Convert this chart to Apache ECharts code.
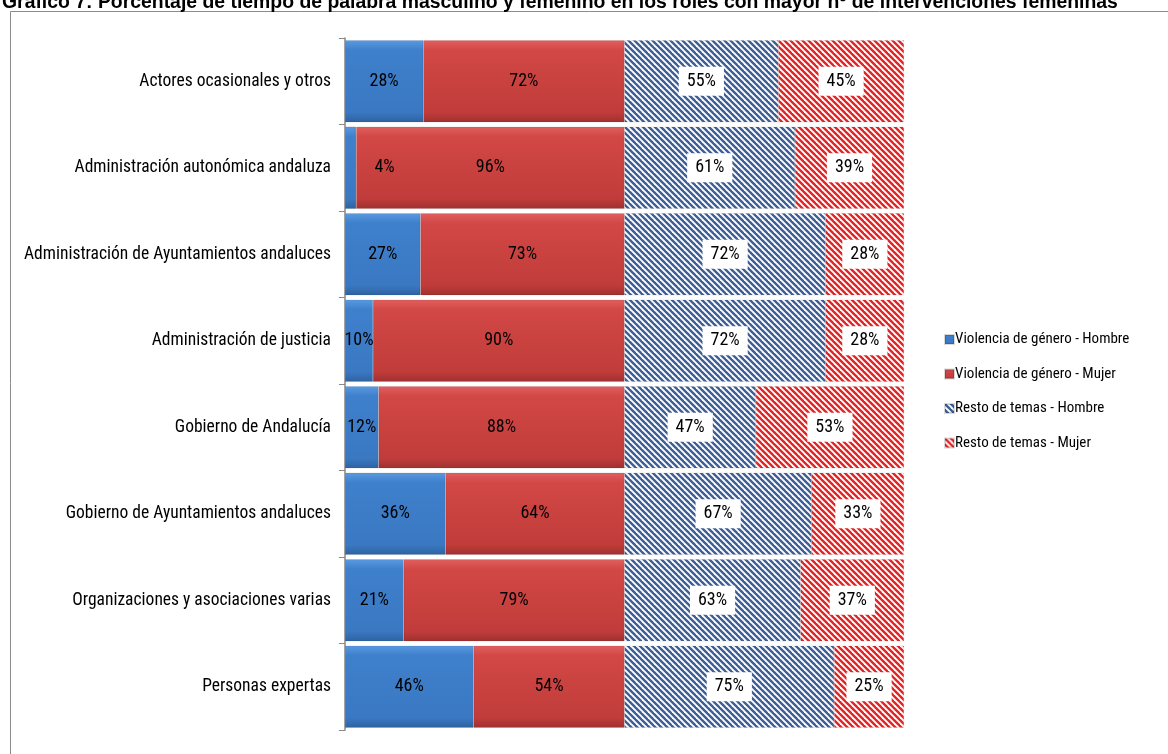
<!DOCTYPE html>
<html><head><meta charset="utf-8">
<script src="https://cdn.jsdelivr.net/npm/echarts@6/dist/echarts.min.js"></script>
<style>html,body{margin:0;padding:0;background:#fff}#c{width:1168px;height:754px}</style>
</head><body><div id="c"></div>
<script>
const categories = ["Actores ocasionales y otros","Administración autonómica andaluza","Administración de Ayuntamientos andaluces","Administración de justicia","Gobierno de Andalucía","Gobierno de Ayuntamientos andaluces","Organizaciones y asociaciones varias","Personas expertas"];
const vgHombre = [28,4,27,10,12,36,21,46];
const vgMujer = [72,96,73,90,88,64,79,54];
const rtHombre = [55,61,72,72,47,67,63,75];
const rtMujer = [45,39,28,28,53,33,37,25];
const seriesNames = ["Violencia de género - Hombre","Violencia de género - Mujer","Resto de temas - Hombre","Resto de temas - Mujer"];

const FONT = "'Liberation Sans Narrow','Arial Narrow','Roboto Condensed',sans-serif";
function stripes(fg){
  const c=document.createElement('canvas');c.width=6;c.height=6;
  const g=c.getContext('2d');g.fillStyle='#fff';g.fillRect(0,0,6,6);
  g.strokeStyle=fg;g.lineWidth=2.4;
  for(let k=-2;k<=2;k++){g.beginPath();g.moveTo(k*6-3,-3);g.lineTo(k*6+9,9);g.stroke();}
  return c;
}
const blueGrad={type:'linear',x:0,y:0,x2:0,y2:1,colorStops:[{offset:0,color:'#5a9ae0'},{offset:0.12,color:'#3f80cc'},{offset:0.88,color:'#3a78c2'},{offset:1,color:'#2e62a0'}]};
const redGrad={type:'linear',x:0,y:0,x2:0,y2:1,colorStops:[{offset:0,color:'#e06060'},{offset:0.12,color:'#d24846'},{offset:0.88,color:'#c03c3a'},{offset:1,color:'#9e3030'}]};
const blueHatch={image:stripes('#3d5f96'),repeat:'repeat'};
const redHatch={image:stripes('#e42424'),repeat:'repeat'};

const lbl={show:true,position:'inside',color:'#000',fontSize:18,fontFamily:FONT,formatter:p=>p.value+'%'};
const lblBox=Object.assign({},lbl,{backgroundColor:'#fff',padding:[6,8,5,8]});

function mk(name,data,color,label){
  return {name,type:'bar',stack:'s',barCategoryGap:'5%',data:data.map((v,i)=>{
    const d={value:v};
    if(name===seriesNames[0] && v<6){d.label={offset:[34,0]};}
    return d;}),
    itemStyle:{color:color,borderColor:'rgba(0,0,0,0.15)',borderWidth:0.5},label,
    emphasis:{disabled:true}};
}
const chart=echarts.init(document.getElementById('c'));
chart.setOption({
  animation:false,
  title:{text:'Gráfico 7: Porcentaje de tiempo de palabra masculino y femenino en los roles con mayor nº de intervenciones femeninas',left:-3,top:-12,textStyle:{fontSize:19.4,fontWeight:'bold',fontFamily:"'Liberation Sans Narrow','Arial Narrow',sans-serif",color:'#000'}},
  graphic:[{type:'rect',shape:{x:10.5,y:11.5,width:1170,height:760},style:{fill:'none',stroke:'#8c8c8c',lineWidth:1}}],
  legend:{orient:'vertical',left:939,top:327,itemWidth:9,itemHeight:9,itemGap:19.5,textStyle:{fontSize:15,fontFamily:FONT,color:'#000',padding:[0,0,0,-4]},data:seriesNames.map(n=>({name:n,icon:'rect'}))},
  grid:{left:345,right:264,top:38,bottom:24},
  xAxis:{type:'value',min:0,max:200,show:false},
  yAxis:{type:'category',data:categories,inverse:true,
    axisLine:{lineStyle:{color:'#888',width:1.5}},
    axisTick:{show:true,length:6,lineStyle:{color:'#888'}},
    axisLabel:{fontSize:17.5,color:'#000',fontFamily:FONT,margin:14}},
  series:[mk(seriesNames[0],vgHombre,blueGrad,lbl),mk(seriesNames[1],vgMujer,redGrad,lbl),mk(seriesNames[2],rtHombre,blueHatch,lblBox),mk(seriesNames[3],rtMujer,redHatch,lblBox)]
});
</script></body></html>
